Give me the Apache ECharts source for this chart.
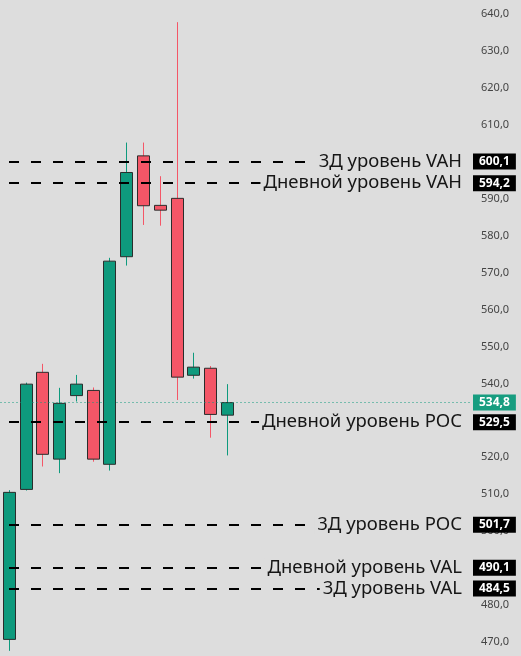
<!DOCTYPE html>
<html>
<head>
<meta charset="utf-8">
<script src="https://cdn.jsdelivr.net/npm/echarts@6/dist/echarts.min.js"></script>
<style>
html,body{margin:0;padding:0;background:#dddddd;}
#chart{width:521px;height:656px;}
</style>
</head>
<body>
<div id="chart"></div>
<script>
// ---- data ----
const categories = ['1','2','3','4','5','6','7','8','9','10','11','12','13','14',
  '15','16','17','18','19','20','21','22','23','24','25','26','27','28'];
const opens  = [470.7, 511.3, 543.0, 519.5, 536.7, 538.1, 518.1, 574.3, 601.6, 588.2, 590.1, 542.2, 544.1, 531.4];
const closes = [510.5, 539.8, 520.8, 534.6, 539.8, 519.5, 573.1, 597.1, 588.1, 586.9, 541.7, 544.4, 531.6, 534.8];
const lows   = [467.6, 511.0, 517.5, 515.7, 535.1, 518.8, 516.4, 571.9, 582.9, 582.7, 535.5, 541.3, 525.3, 520.5];
const highs  = [511.1, 540.2, 545.3, 538.8, 542.3, 538.9, 574.0, 605.2, 605.2, 596.1, 637.8, 548.3, 544.7, 539.8];
const levelValues = [600.1, 594.2, 529.5, 501.7, 490.1, 484.5];
const levelNames  = ['3Д уровень VAH', 'Дневной уровень VAH', 'Дневной уровень POC',
                     '3Д уровень POC', 'Дневной уровень VAL', '3Д уровень VAL'];
const currentPrice = 534.8;
const yRange = {min: 466.2, max: 643.8, step: 10};

// ---- style ----
const GREEN = '#0e9a7d', RED = '#f45667', EDGE = '#2a2d2c';
const fmt = v => v.toFixed(1).replace('.', ',');

const candleData = opens.map((o, i) => [i, o, closes[i], lows[i], highs[i]]);

const levelLines = [];
levelValues.forEach((v, i) => {
  levelLines.push({
    yAxis: v,
    lineStyle: {color: '#000', width: 2, type: [10, 12], dashOffset: 13.5},
    label: {
      show: true, position: 'insideEnd', distance: 5,
      formatter: levelNames[i],
      color: '#161616', fontSize: 18.5, fontFamily: 'Noto Sans',
      backgroundColor: '#dddddd', padding: [0, 3]
    }
  });
  levelLines.push({
    yAxis: v,
    lineStyle: {color: 'rgba(0,0,0,0)', width: 1},
    label: {
      show: true, position: 'end', distance: 3,
      formatter: fmt(v),
      color: '#fff', fontSize: 12, fontWeight: 'bold', fontFamily: 'Noto Sans',
      backgroundColor: '#000', padding: [1, 6], lineHeight: 14
    }
  });
});
levelLines.push({
  yAxis: currentPrice,
  lineStyle: {color: GREEN, width: 1, type: [1, 3]},
  label: {
    show: true, position: 'end', distance: 3,
    formatter: fmt(currentPrice),
    color: '#fff', fontSize: 12, fontWeight: 'bold', fontFamily: 'Noto Sans',
    backgroundColor: '#179d80', padding: [1, 6], lineHeight: 14
  }
});

const chart = echarts.init(document.getElementById('chart'), null, {renderer: 'canvas'});
chart.setOption({
  backgroundColor: '#dddddd',
  animation: false,
  grid: {left: 0.5, right: 51, top: 0, bottom: 0, containLabel: false},
  xAxis: {
    type: 'category', data: categories, boundaryGap: true,
    axisLine: {show: false}, axisTick: {show: false}, axisLabel: {show: false}, splitLine: {show: false}
  },
  yAxis: {
    type: 'value', position: 'right',
    min: yRange.min, max: yRange.max, splitNumber: 18,
    minInterval: yRange.step, maxInterval: yRange.step,
    axisLine: {show: false}, axisTick: {show: false}, splitLine: {show: false},
    axisLabel: {
      margin: 11, color: '#444444', fontSize: 11, fontFamily: 'Noto Sans',
      showMinLabel: false, showMaxLabel: false,
      formatter: fmt
    }
  },
  series: [
    {
      type: 'line', data: [], silent: true, z: 1,
      markLine: {
        silent: true, symbol: 'none', animation: false,
        data: levelLines
      }
    },
    {
      type: 'custom', z: 3,
      data: candleData,
      encode: {x: 0, y: [1, 2, 3, 4]},
      renderItem: function (params, api) {
        const x = api.value(0);
        const o = api.value(1), c = api.value(2), l = api.value(3), h = api.value(4);
        const pO = api.coord([x, o]), pC = api.coord([x, c]);
        const pL = api.coord([x, l]), pH = api.coord([x, h]);
        const color = c >= o ? GREEN : RED;
        const cx = Math.round(pO[0]) + 0.5;
        const w = 12;
        const top = Math.min(pO[1], pC[1]);
        const hgt = Math.max(Math.abs(pO[1] - pC[1]), 1);
        return {
          type: 'group',
          children: [
            {type: 'line', shape: {x1: cx, y1: pH[1], x2: cx, y2: pL[1]},
             style: {stroke: color, lineWidth: 1}},
            {type: 'rect', shape: {x: cx - w / 2, y: top, width: w, height: hgt},
             style: {fill: color, stroke: EDGE, lineWidth: 1}}
          ]
        };
      }
    }
  ]
});
</script>
</body>
</html>
